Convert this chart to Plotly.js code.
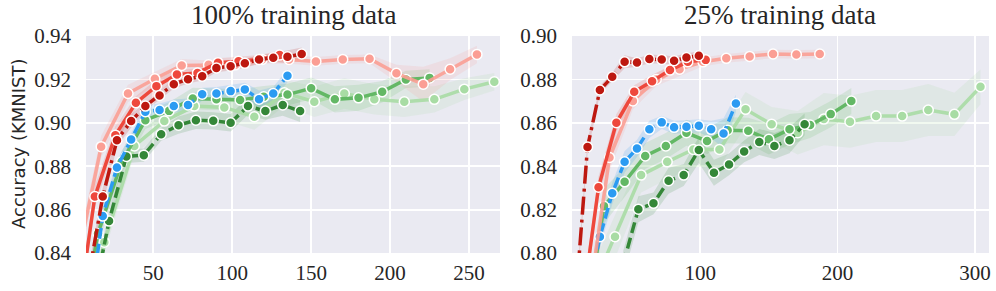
<!DOCTYPE html>
<html><head><meta charset="utf-8">
<script src="https://cdn.plot.ly/plotly-3.0.1.min.js"></script>
<style>html,body{margin:0;padding:0;background:#fff}#chart{width:996px;height:291px}</style>
</head><body><div id="chart"></div>
<script>
// ---------- 100% training data (left panel) ----------
const dr100_x = [9,18,27,36,45,54,63,72,81,90,99,108,117,126,135,144];
const dr100_y = [0.829,0.866,0.892,0.9008,0.9077,0.9126,0.9178,0.9201,0.9215,0.9253,0.9261,0.9274,0.9292,0.930,0.9304,0.9317];
const dr100_e = [0.004,0.004,0.003,0.003,0.002,0.002,0.002,0.002,0.002,0.002,0.002,0.002,0.002,0.002,0.003,0.003];

const red100_x = [0,13,26,39,52,65,78,91,104,117,130];
const red100_y = [0.80,0.866,0.8943,0.9092,0.9169,0.9223,0.923,0.9277,0.9284,0.9292,0.9312];
const red100_e = [0.006,0.005,0.004,0.003,0.003,0.002,0.002,0.002,0.002,0.002,0.002];

const sal100_x = [0,17,34,51,68,85,102,119,136,153,170,187,204,221,238,255];
const sal100_y = [0.83,0.889,0.9135,0.9203,0.9264,0.9267,0.9267,0.9292,0.9292,0.9283,0.9292,0.9295,0.9228,0.9178,0.9247,0.9315];
const sal100_e = [0.006,0.005,0.004,0.003,0.003,0.002,0.002,0.002,0.002,0.002,0.002,0.002,0.004,0.008,0.005,0.004];

const blue100_x = [9,18,27,36,45,54,63,72,81,90,99,108,117,126,135];
const blue100_y = [0.81,0.857,0.8794,0.8923,0.9051,0.9059,0.9077,0.9082,0.9132,0.9135,0.9146,0.9154,0.9109,0.9135,0.9217];
const blue100_e = [0.005,0.004,0.003,0.003,0.003,0.003,0.003,0.003,0.003,0.003,0.003,0.003,0.004,0.003,0.003];

const dg100_x = [11,22,33,44,55,66,77,88,99,110,121,132,143];
const dg100_y = [0.815,0.8547,0.8845,0.8851,0.8947,0.8989,0.9012,0.9009,0.900,0.9077,0.9054,0.9082,0.9054];
const dg100_e = [0.005,0.004,0.003,0.003,0.003,0.004,0.004,0.004,0.004,0.004,0.004,0.005,0.005];

const mg100_x = [0,15,30,45,60,75,90,105,120,135,150,165,180,195,210,225];
const mg100_y = [0.79,0.849,0.882,0.9012,0.9055,0.9112,0.9108,0.9105,0.912,0.913,0.9159,0.9108,0.9115,0.9143,0.920,0.9207];
const mg100_e = [0.006,0.005,0.005,0.004,0.004,0.005,0.005,0.005,0.005,0.005,0.005,0.006,0.006,0.005,0.004,0.004];

const lg100_x = [0,19,38,57,76,95,114,133,152,171,190,209,228,247,266];
const lg100_y = [0.78,0.845,0.8893,0.9008,0.9077,0.9071,0.9028,0.9138,0.9097,0.9135,0.9108,0.9097,0.9108,0.9155,0.9189];
const lg100_e = [0.006,0.005,0.004,0.004,0.005,0.006,0.006,0.006,0.007,0.007,0.007,0.007,0.006,0.005,0.004];

// ---------- 25% training data (right panel) ----------
const dr25_x = [9,18,27,36,45,54,63,72,81,90,99];
const dr25_y = [0.775,0.8489,0.8751,0.8812,0.8881,0.8878,0.8894,0.8892,0.8886,0.8901,0.8909];
const dr25_e = [0.003,0.003,0.002,0.002,0.003,0.002,0.002,0.002,0.002,0.002,0.002];

const red25_x = [13,26,39,52,65,78,91,104];
const red25_y = [0.77,0.8303,0.860,0.8743,0.8792,0.8843,0.8881,0.889];
const red25_e = [0.006,0.005,0.004,0.003,0.003,0.002,0.002,0.002];

const sal25_x = [17,34,51,68,85,102,119,136,153,170,187];
const sal25_y = [0.77,0.844,0.8701,0.880,0.8847,0.8881,0.8897,0.8906,0.8917,0.8915,0.8917];
const sal25_e = [0.008,0.006,0.004,0.003,0.003,0.002,0.002,0.002,0.002,0.002,0.002];

const blue25_x = [18,27,36,45,54,63,72,81,90,99,108,117,126];
const blue25_y = [0.78,0.8075,0.8275,0.842,0.8482,0.857,0.8602,0.8579,0.8582,0.8586,0.857,0.8551,0.8689];
const blue25_e = [0.006,0.005,0.005,0.005,0.004,0.004,0.003,0.003,0.003,0.003,0.004,0.007,0.004];

const dg25_x = [44,55,66,77,88,99,110,121,132,143,154,165,176];
const dg25_y = [0.795,0.8202,0.8229,0.8333,0.8359,0.8475,0.837,0.8408,0.8468,0.8512,0.8493,0.852,0.8593];
const dg25_e = [0.006,0.006,0.005,0.006,0.005,0.006,0.006,0.005,0.005,0.006,0.006,0.006,0.005];

const mg25_x = [15,30,45,60,75,90,105,120,135,150,165,180,195,210];
const mg25_y = [0.76,0.8216,0.8328,0.8447,0.8493,0.8554,0.8516,0.8566,0.8563,0.8524,0.857,0.859,0.864,0.870];
const mg25_e = [0.008,0.008,0.007,0.006,0.006,0.006,0.006,0.006,0.006,0.007,0.007,0.006,0.006,0.006];

const lg25_x = [19,38,57,76,95,114,133,152,171,190,209,228,247,266,285,304];
const lg25_y = [0.78,0.8075,0.8359,0.842,0.8477,0.8477,0.8662,0.8593,0.8554,0.8617,0.8605,0.8631,0.8631,0.8659,0.8639,0.8766];
const lg25_e = [0.01,0.01,0.008,0.008,0.008,0.008,0.008,0.008,0.01,0.012,0.012,0.012,0.012,0.012,0.01,0.008];

const titles = ["100% training data", "25% training data"];
const yTitle = "Accuracy (KMNIST)";
const xTicks100 = [50,100,150,200,250];
const xTicks25 = [100,200,300];

// ---------- styles ----------
const C = {
  dr: [189,24,16], red: [238,72,60], sal: [251,158,148], blue: [43,155,242],
  dg: [52,135,56], mg: [99,184,101], lg: [168,220,164]
};
function rgba(c,a){return 'rgba('+c[0]+','+c[1]+','+c[2]+','+a+')';}

const bands = [], lines = [];
function addSeries(xs, ys, es, col, dash, xa, ya, la) {
  const up = ys.map((v,i)=>v+es[i]);
  const lo = ys.map((v,i)=>v-es[i]);
  bands.push({x: xs.concat(xs.slice().reverse()), y: up.concat(lo.slice().reverse()),
    type:'scatter', mode:'lines', fill:'toself', fillcolor: rgba(col,0.16),
    line:{width:0}, hoverinfo:'skip', showlegend:false, xaxis:xa, yaxis:ya});
  lines.push({x: xs, y: ys, type:'scatter', mode:'lines+markers',
    line:{color: rgba(col,la), width:3.5, dash: dash},
    marker:{size:10, color: rgba(col,1), line:{color:'#ffffff', width:1.5}},
    showlegend:false, xaxis:xa, yaxis:ya});
}
const DD = '18px,5px,3px,5px', DS = '11px,5px';
[['x','y',[lg100_x,lg100_y,lg100_e,C.lg,'solid',0.9],[mg100_x,mg100_y,mg100_e,C.mg,'solid',1],
   [dg100_x,dg100_y,dg100_e,C.dg,DS,1],[blue100_x,blue100_y,blue100_e,C.blue,DS,1],
   [sal100_x,sal100_y,sal100_e,C.sal,'solid',0.9],[red100_x,red100_y,red100_e,C.red,'solid',1],
   [dr100_x,dr100_y,dr100_e,C.dr,DD,1]],
 ['x2','y2',[lg25_x,lg25_y,lg25_e,C.lg,'solid',0.9],[mg25_x,mg25_y,mg25_e,C.mg,'solid',1],
   [dg25_x,dg25_y,dg25_e,C.dg,DS,1],[blue25_x,blue25_y,blue25_e,C.blue,DS,1],
   [sal25_x,sal25_y,sal25_e,C.sal,'solid',0.9],[red25_x,red25_y,red25_e,C.red,'solid',1],
   [dr25_x,dr25_y,dr25_e,C.dr,DD,1]]
].forEach(p => { for (let i=2;i<p.length;i++){ const s=p[i]; addSeries(s[0],s[1],s[2],s[3],s[4],p[0],p[1],s[5]); } });

const tickFont = {family:'Liberation Serif, serif', size:21, color:'#262626'};
const yDom = [38/291, 255/291];
const axBase = {showgrid:true, gridcolor:'#ffffff', gridwidth:1.8, zeroline:false, showline:false,
  ticks:'', tickfont:tickFont};

const layout = {
  width:996, height:291, margin:{l:0,r:0,t:0,b:0},
  paper_bgcolor:'#ffffff', plot_bgcolor:'#eaeaf2', showlegend:false,
  xaxis: Object.assign({}, axBase, {domain:[86/996, 500/996], range:[7.4,269.6], tickvals:xTicks100, anchor:'y', ticklabelstandoff:5}),
  yaxis: Object.assign({}, axBase, {domain:yDom, range:[0.84,0.94], tick0:0.84, dtick:0.02, tickformat:'.2f', anchor:'x', ticklabelstandoff:14}),
  xaxis2: Object.assign({}, axBase, {domain:[572/996, 989/996], range:[6.7,310.2], tickvals:xTicks25, anchor:'y2', ticklabelstandoff:5}),
  yaxis2: Object.assign({}, axBase, {domain:yDom, range:[0.80,0.90], tick0:0.80, dtick:0.02, tickformat:'.2f', anchor:'x2', ticklabelstandoff:14}),
  annotations: [
    {text:titles[0], xref:'paper', yref:'paper', x:293/996, y:1-15/291, xanchor:'center', yanchor:'middle', showarrow:false,
     font:{family:'Liberation Serif, serif', size:27, color:'#262626'}},
    {text:titles[1], xref:'paper', yref:'paper', x:780/996, y:1-15/291, xanchor:'center', yanchor:'middle', showarrow:false,
     font:{family:'Liberation Serif, serif', size:27, color:'#262626'}},
    {text:yTitle, xref:'paper', yref:'paper', x:18/996, y:1-144/291, xanchor:'center', yanchor:'middle', showarrow:false, textangle:-90,
     font:{family:'DejaVu Sans, sans-serif', size:18, color:'#262626'}}
  ]
};
Plotly.newPlot('chart', bands.concat(lines), layout, {staticPlot:true, displayModeBar:false});
</script></body></html>
